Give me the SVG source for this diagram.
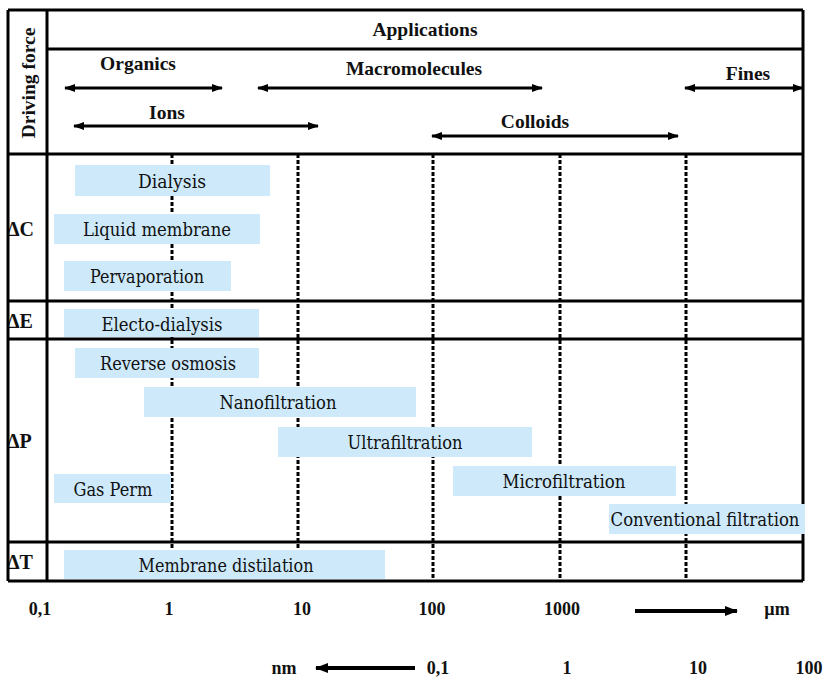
<svg xmlns="http://www.w3.org/2000/svg" width="825" height="677" viewBox="0 0 825 677">
<defs>
<marker id="ah" markerUnits="userSpaceOnUse" markerWidth="12" markerHeight="10" refX="10" refY="4" orient="auto-start-reverse"><path d="M0,0 L11,4 L0,8 z" fill="#000"/></marker>
<marker id="ahb" markerUnits="userSpaceOnUse" markerWidth="14" markerHeight="12" refX="12" refY="5" orient="auto-start-reverse"><path d="M0,0 L13,5 L0,10 z" fill="#000"/></marker>
<style>
.frame{stroke:#000;stroke-width:3;fill:none}
.dash{stroke:#000;stroke-width:3;stroke-dasharray:4 2;fill:none}
.arr{stroke:#000;stroke-width:3;fill:none}
.axarr{stroke:#000;stroke-width:4;fill:none}
.box{fill:#cde9fa}
.t{font-family:"DejaVu Serif","Liberation Serif",serif;font-size:18px;font-weight:400;fill:#111;text-anchor:middle}
.b{font-family:"Liberation Serif",serif;font-size:19.5px;font-weight:bold;fill:#111;text-anchor:middle}
.rl{font-family:"Liberation Serif",serif;font-size:20px;font-weight:bold;fill:#111}
.ax{font-family:"Liberation Serif",serif;font-size:18px;font-weight:bold;fill:#111;text-anchor:middle}
</style>
</defs>
<rect width="825" height="677" fill="#fff"/>

<g id="grid-dashed">
<line class="dash" x1="172" y1="154" x2="172" y2="581"/>
<line class="dash" x1="298" y1="154" x2="298" y2="581"/>
<line class="dash" x1="433" y1="154" x2="433" y2="581"/>
<line class="dash" x1="560" y1="154" x2="560" y2="581"/>
<line class="dash" x1="686" y1="154" x2="686" y2="581"/>
</g>

<g id="row-labels">
<text class="rl" x="7" y="236">ΔC</text>
<text class="rl" x="7" y="328">ΔE</text>
<text class="rl" x="7" y="448">ΔP</text>
<text class="rl" x="7" y="569">ΔT</text>
</g>

<g id="frame">
<line class="frame" x1="8" y1="10" x2="803" y2="10"/>
<line class="frame" x1="47" y1="49" x2="803" y2="49"/>
<line class="frame" x1="8" y1="154" x2="803" y2="154"/>
<line class="frame" x1="8" y1="301" x2="803" y2="301"/>
<line class="frame" x1="8" y1="339" x2="803" y2="339"/>
<line class="frame" x1="8" y1="542" x2="803" y2="542"/>
<line class="frame" x1="8" y1="581" x2="803" y2="581"/>
<line class="frame" x1="8" y1="10" x2="8" y2="581"/>
<line class="frame" x1="47" y1="10" x2="47" y2="581"/>
<line class="frame" x1="803" y1="10" x2="803" y2="581"/>
</g>

<g id="header">
<text class="b" transform="translate(35,83) rotate(-90)" x="0" y="0">Driving force</text>
<text class="b" x="425" y="36">Applications</text>
<text class="b" x="138" y="70">Organics</text>
<text class="b" x="414" y="75">Macromolecules</text>
<text class="b" x="748" y="80">Fines</text>
<text class="b" x="167" y="119">Ions</text>
<text class="b" x="535" y="128">Colloids</text>
</g>

<g id="connectors">
<line class="arr" x1="65" y1="88" x2="222" y2="88" marker-start="url(#ah)" marker-end="url(#ah)"/>
<line class="arr" x1="258" y1="88" x2="542" y2="88" marker-start="url(#ah)" marker-end="url(#ah)"/>
<line class="arr" x1="685" y1="88" x2="803" y2="88" marker-start="url(#ah)" marker-end="url(#ah)"/>
<line class="arr" x1="74" y1="126" x2="318" y2="126" marker-start="url(#ah)" marker-end="url(#ah)"/>
<line class="arr" x1="432" y1="136" x2="678" y2="136" marker-start="url(#ah)" marker-end="url(#ah)"/>
<line class="axarr" x1="635" y1="611" x2="737" y2="611" marker-end="url(#ahb)"/>
<line class="axarr" x1="415" y1="668" x2="316" y2="668" marker-end="url(#ahb)"/>
</g>

<g id="dialysis"><rect class="box" x="75" y="165" width="195" height="31"/><text class="t" x="172" y="188" textLength="68" lengthAdjust="spacingAndGlyphs">Dialysis</text></g>
<g id="liquid-membrane"><rect class="box" x="54" y="214" width="206" height="30"/><text class="t" x="157" y="236" textLength="148" lengthAdjust="spacingAndGlyphs">Liquid membrane</text></g>
<g id="pervaporation"><rect class="box" x="64" y="261" width="167" height="30"/><text class="t" x="147" y="283" textLength="114" lengthAdjust="spacingAndGlyphs">Pervaporation</text></g>
<g id="electo-dialysis"><rect class="box" x="64" y="309" width="195" height="28"/><text class="t" x="162" y="331" textLength="121" lengthAdjust="spacingAndGlyphs">Electo-dialysis</text></g>
<g id="reverse-osmosis"><rect class="box" x="75" y="348" width="184" height="30"/><text class="t" x="168" y="370" textLength="136" lengthAdjust="spacingAndGlyphs">Reverse osmosis</text></g>
<g id="nanofiltration"><rect class="box" x="144" y="387" width="272" height="30"/><text class="t" x="278" y="409" textLength="117" lengthAdjust="spacingAndGlyphs">Nanofiltration</text></g>
<g id="ultrafiltration"><rect class="box" x="278" y="427" width="254" height="30"/><text class="t" x="405" y="449" textLength="115" lengthAdjust="spacingAndGlyphs">Ultrafiltration</text></g>
<g id="gas-perm"><rect class="box" x="54" y="474" width="117" height="29"/><text class="t" x="113" y="496" textLength="79" lengthAdjust="spacingAndGlyphs">Gas Perm</text></g>
<g id="microfiltration"><rect class="box" x="453" y="466" width="223" height="30"/><text class="t" x="564" y="488" textLength="123" lengthAdjust="spacingAndGlyphs">Microfiltration</text></g>
<g id="conventional-filtration"><rect class="box" x="609" y="504" width="196" height="30"/><text class="t" x="705" y="526" textLength="189" lengthAdjust="spacingAndGlyphs">Conventional filtration</text></g>
<g id="membrane-distilation"><rect class="box" x="64" y="550" width="321" height="29"/><text class="t" x="226" y="572" textLength="175" lengthAdjust="spacingAndGlyphs">Membrane distilation</text></g>

<g id="axis">
<text class="ax" x="40" y="615">0,1</text>
<text class="ax" x="169" y="615">1</text>
<text class="ax" x="302" y="615">10</text>
<text class="ax" x="432" y="615">100</text>
<text class="ax" x="562" y="615">1000</text>
<text class="ax" x="777" y="615">µm</text>
<text class="ax" x="284" y="674">nm</text>
<text class="ax" x="438" y="674">0,1</text>
<text class="ax" x="567" y="674">1</text>
<text class="ax" x="698" y="674">10</text>
<text class="ax" x="809" y="674">100</text>
</g>
</svg>
